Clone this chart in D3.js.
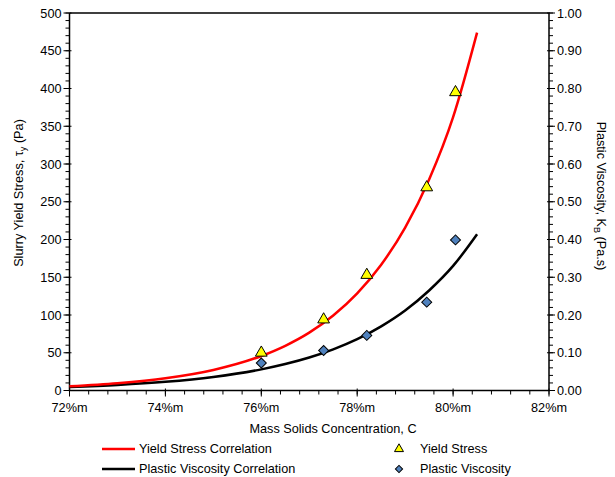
<!DOCTYPE html>
<html>
<head>
<meta charset="utf-8">
<script src="https://cdn.jsdelivr.net/npm/d3@7/dist/d3.min.js"></script>
<style>
  html, body { margin: 0; padding: 0; background: #fff; }
  svg { display: block; font-family: "Liberation Sans", Arial, sans-serif; }
</style>
</head>
<body>
<svg id="chart" width="615" height="477"></svg>
<script>
// Mass solids concentration (%) of the measured samples
const concentration = [76.0, 77.3, 78.2, 79.45, 80.05];
// Measured slurry yield stress (Pa)
const yieldStress = [50, 94, 153, 269, 395];
// Measured plastic viscosity (Pa.s)
const plasticViscosity = [0.073, 0.106, 0.146, 0.234, 0.399];

// Correlation curves, sampled along the concentration range
const corrConc = [72, 73, 74, 75, 76, 76.5, 77, 77.5, 78, 78.5, 79, 79.5, 80, 80.5];
const yieldCorr = [5.5, 9.6, 16.2, 27.2, 45.7, 59.2, 76.6, 99.3, 128.6, 166.6, 215.8, 279.5, 362, 474];
const viscCorr = [0.0095, 0.0148, 0.0231, 0.036, 0.056, 0.070, 0.0873, 0.109, 0.136, 0.170, 0.212, 0.265, 0.330, 0.414];

// Axis ticks
const xTicks = [72, 74, 76, 78, 80, 82];
const yLeftTicks = [0, 50, 100, 150, 200, 250, 300, 350, 400, 450, 500];
const yRightTicks = [0, 0.1, 0.2, 0.3, 0.4, 0.5, 0.6, 0.7, 0.8, 0.9, 1.0];

const svg = d3.select("#chart");
const m = { left: 69.5, right: 549, top: 13, bottom: 390.5 };

const x = d3.scaleLinear().domain([72, 82]).range([m.left, m.right]);
const yL = d3.scaleLinear().domain([0, 500]).range([m.bottom, m.top]);
const yR = d3.scaleLinear().domain([0, 1]).range([m.bottom, m.top]);

const fs = 12.7;

// Minor ticks
const g = svg.append("g").attr("stroke", "#000").attr("stroke-width", 1);
d3.range(72, 82.001, 0.4).forEach(v => {
  g.append("line").attr("x1", x(v)).attr("x2", x(v)).attr("y1", m.bottom).attr("y2", m.bottom + 4);
});
d3.range(0, 500.001, 10).forEach(v => {
  g.append("line").attr("x1", m.left - 4).attr("x2", m.left).attr("y1", yL(v)).attr("y2", yL(v));
});
d3.range(0, 1.0001, 0.02).forEach(v => {
  g.append("line").attr("x1", m.right).attr("x2", m.right + 4).attr("y1", yR(v)).attr("y2", yR(v));
});

// Major ticks
xTicks.forEach(v => {
  g.append("line").attr("x1", x(v)).attr("x2", x(v)).attr("y1", m.bottom - 2).attr("y2", m.bottom + 6);
});
yLeftTicks.forEach(v => {
  g.append("line").attr("x1", m.left - 6).attr("x2", m.left + 2).attr("y1", yL(v)).attr("y2", yL(v));
});
yRightTicks.forEach(v => {
  g.append("line").attr("x1", m.right - 2).attr("x2", m.right + 6).attr("y1", yR(v)).attr("y2", yR(v));
});

// Axis lines and top border
svg.append("path")
  .attr("d", `M${m.left},${m.top}V${m.bottom}H${m.right}V${m.top}H${m.left}`)
  .attr("fill", "none").attr("stroke", "#000").attr("stroke-width", 1.5);

// Tick labels
svg.append("g").selectAll("text").data(xTicks).join("text")
  .attr("x", d => x(d)).attr("y", 412)
  .attr("text-anchor", "middle").attr("font-size", fs)
  .text(d => d + "%m");
svg.append("g").selectAll("text").data(yLeftTicks).join("text")
  .attr("x", m.left - 8).attr("y", d => yL(d) + 4.5)
  .attr("text-anchor", "end").attr("font-size", fs)
  .text(d => d);
svg.append("g").selectAll("text").data(yRightTicks).join("text")
  .attr("x", m.right + 8).attr("y", d => yR(d) + 4.5)
  .attr("text-anchor", "start").attr("font-size", fs)
  .text(d => d.toFixed(2));

// Axis titles
svg.append("text").attr("x", 333).attr("y", 433)
  .attr("text-anchor", "middle").attr("font-size", fs)
  .text("Mass Solids Concentration, C");

const tl = svg.append("text")
  .attr("transform", "translate(23,193) rotate(-90)")
  .attr("text-anchor", "middle").attr("font-size", fs);
tl.append("tspan").text("Slurry Yield Stress, τ");
tl.append("tspan").attr("font-size", 9).attr("dy", 3).text("y");
tl.append("tspan").attr("dy", -3).text(" (Pa)");

const tr = svg.append("text")
  .attr("transform", "translate(597,196) rotate(90)")
  .attr("text-anchor", "middle").attr("font-size", fs);
tr.append("tspan").text("Plastic Viscosity, K");
tr.append("tspan").attr("font-size", 9).attr("dy", 3).text("B");
tr.append("tspan").attr("dy", -3).text(" (Pa.s)");

// Correlation curves
const lineL = d3.line().x(d => x(d[0])).y(d => yL(d[1])).curve(d3.curveMonotoneX);
const lineR = d3.line().x(d => x(d[0])).y(d => yR(d[1])).curve(d3.curveMonotoneX);

svg.append("path").datum(d3.zip(corrConc, viscCorr))
  .attr("d", lineR).attr("fill", "none").attr("stroke", "#000").attr("stroke-width", 2.5);
svg.append("path").datum(d3.zip(corrConc, yieldCorr))
  .attr("d", lineL).attr("fill", "none").attr("stroke", "#ff0000").attr("stroke-width", 2.5);

// Measured points: triangles for yield stress, square diamonds for viscosity
const tri = d3.symbol().type(d3.symbolTriangle).size(60);
const dia = d3.symbol().type(d3.symbolSquare).size(50);

svg.append("g").selectAll("path").data(d3.zip(concentration, plasticViscosity)).join("path")
  .attr("transform", d => `translate(${x(d[0])},${yR(d[1])}) rotate(45)`)
  .attr("d", dia).attr("fill", "#4f81bd").attr("stroke", "#000").attr("stroke-width", 1);

svg.append("g").selectAll("path").data(d3.zip(concentration, yieldStress)).join("path")
  .attr("transform", d => `translate(${x(d[0])},${yL(d[1])})`)
  .attr("d", tri).attr("fill", "#ffff00").attr("stroke", "#000").attr("stroke-width", 1);

// Legend
const leg = svg.append("g").attr("font-size", fs);
leg.append("line").attr("x1", 102).attr("x2", 135).attr("y1", 449).attr("y2", 449)
  .attr("stroke", "#ff0000").attr("stroke-width", 2.5);
leg.append("text").attr("x", 139).attr("y", 453).text("Yield Stress Correlation");
leg.append("line").attr("x1", 102).attr("x2", 135).attr("y1", 469).attr("y2", 469)
  .attr("stroke", "#000").attr("stroke-width", 2.5);
leg.append("text").attr("x", 139).attr("y", 473).text("Plastic Viscosity Correlation");

leg.append("path").attr("transform", "translate(399,449)")
  .attr("d", d3.symbol().type(d3.symbolTriangle).size(35))
  .attr("fill", "#ffff00").attr("stroke", "#000").attr("stroke-width", 1);
leg.append("text").attr("x", 420).attr("y", 453).text("Yield Stress");
leg.append("path").attr("transform", "translate(399,469) rotate(45)")
  .attr("d", d3.symbol().type(d3.symbolSquare).size(26))
  .attr("fill", "#4f81bd").attr("stroke", "#000").attr("stroke-width", 1);
leg.append("text").attr("x", 420).attr("y", 473).text("Plastic Viscosity");
</script>
</body>
</html>
